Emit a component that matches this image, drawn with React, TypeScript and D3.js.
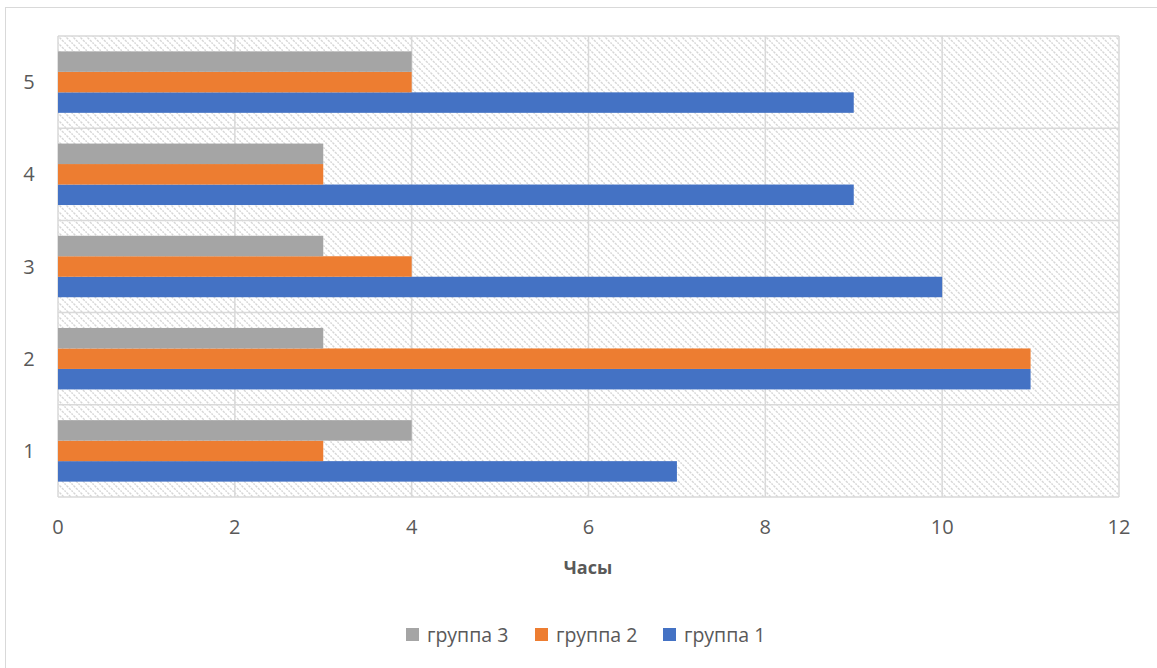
import React, { useEffect, useRef } from 'react';
import * as d3 from 'd3';

const categories = ['1', '2', '3', '4', '5'];
const seriesNames = ['группа 1', 'группа 2', 'группа 3'];
const group1 = [7, 11, 10, 9, 9];
const group2 = [3, 11, 4, 3, 4];
const group3 = [4, 3, 3, 3, 4];
const xTicks = [0, 2, 4, 6, 8, 10, 12];
const colors = ['#4472c4', '#ed7d31', '#a5a5a5'];

const App = () => {
  const ref = useRef<SVGSVGElement>(null);

  useEffect(() => {
    const W = 1157, H = 668;
    const margin = { top: 36, right: 38, bottom: 171, left: 58 };
    const width = W - margin.left - margin.right;
    const height = H - margin.top - margin.bottom;
    const font = '"Open Sans", "Liberation Sans", sans-serif';

    const svg = d3.select(ref.current);
    svg.selectAll('*').remove();

    // hatch fill for the plot area
    const pat = svg.append('defs').append('pattern')
      .attr('id', 'hatch')
      .attr('patternUnits', 'userSpaceOnUse')
      .attr('width', 7)
      .attr('height', 7);
    pat.append('path')
      .attr('d', 'M-1,-1L8,8M-8,-1L1,8M6,-1L15,8')
      .attr('stroke', '#d6d6d6')
      .attr('stroke-width', 1.4)
      .attr('stroke-dasharray', '2.5,1');

    // chart frame
    svg.append('rect')
      .attr('x', 5.5).attr('y', 7.5)
      .attr('width', W + 10).attr('height', H + 10)
      .attr('fill', '#fff')
      .attr('stroke', '#d9d9d9');

    const g = svg.append('g').attr('transform', `translate(${margin.left},${margin.top})`);

    const x = d3.scaleLinear().domain([0, 12]).range([0, width]);
    const y0 = d3.scaleBand().domain([...categories].reverse()).range([0, height]).paddingInner(0).paddingOuter(0);
    const y1 = d3.scaleBand().domain(['группа 3', 'группа 2', 'группа 1'])
      .range([0, y0.bandwidth()]).paddingOuter(0.75).paddingInner(0);

    g.append('rect')
      .attr('width', width).attr('height', height)
      .attr('fill', 'url(#hatch)');

    // grid
    g.selectAll('.vgrid').data(xTicks).enter().append('line')
      .attr('x1', d => x(d)).attr('x2', d => x(d))
      .attr('y1', 0).attr('y2', height)
      .attr('stroke', '#d9d9d9').attr('stroke-width', 1.5);
    const hLines = d3.range(categories.length + 1).map(i => i * y0.bandwidth());
    g.selectAll('.hgrid').data(hLines).enter().append('line')
      .attr('x1', 0).attr('x2', width)
      .attr('y1', d => d).attr('y2', d => d)
      .attr('stroke', '#d9d9d9').attr('stroke-width', 1.5);

    const data = categories.map((c, i) => ({
      category: c,
      values: [
        { name: seriesNames[0], value: group1[i], color: colors[0] },
        { name: seriesNames[1], value: group2[i], color: colors[1] },
        { name: seriesNames[2], value: group3[i], color: colors[2] },
      ],
    }));

    const cat = g.selectAll('.category').data(data).enter().append('g')
      .attr('transform', d => `translate(0,${y0(d.category)})`);
    cat.selectAll('rect').data(d => d.values).enter().append('rect')
      .attr('x', 0)
      .attr('y', d => y1(d.name)!)
      .attr('width', d => x(d.value))
      .attr('height', y1.bandwidth())
      .attr('fill', d => d.color);

    // x tick labels
    g.selectAll('.xt').data(xTicks).enter().append('text')
      .attr('x', d => x(d)).attr('y', height + 37)
      .attr('text-anchor', 'middle')
      .attr('font-family', font).attr('font-size', 20)
      .attr('fill', '#595959')
      .text(d => d);

    // y tick labels
    g.selectAll('.yt').data(categories).enter().append('text')
      .attr('x', -29).attr('y', d => y0(d)! + y0.bandwidth() / 2 + 7)
      .attr('text-anchor', 'middle')
      .attr('font-family', font).attr('font-size', 20)
      .attr('fill', '#595959')
      .text(d => d);

    // axis title
    svg.append('text')
      .attr('x', 588).attr('y', 574)
      .attr('text-anchor', 'middle')
      .attr('font-family', font).attr('font-size', 18).attr('font-weight', 'bold')
      .attr('fill', '#595959')
      .text('Часы');

    // legend
    const legend = [
      { name: seriesNames[2], color: colors[2], x: 406 },
      { name: seriesNames[1], color: colors[1], x: 535 },
      { name: seriesNames[0], color: colors[0], x: 663 },
    ];
    const lg = svg.selectAll('.lg').data(legend).enter().append('g')
      .attr('transform', d => `translate(${d.x},628)`);
    lg.append('rect').attr('width', 13).attr('height', 13).attr('fill', d => d.color);
    lg.append('text')
      .attr('x', 21).attr('y', 14)
      .attr('font-family', font).attr('font-size', 19.5)
      .attr('fill', '#595959')
      .text(d => d.name);
  }, []);

  return (
    <svg ref={ref} width={1157} height={668}
      style={{ position: 'absolute', left: 0, top: 0, display: 'block' }} />
  );
};

export default App;
